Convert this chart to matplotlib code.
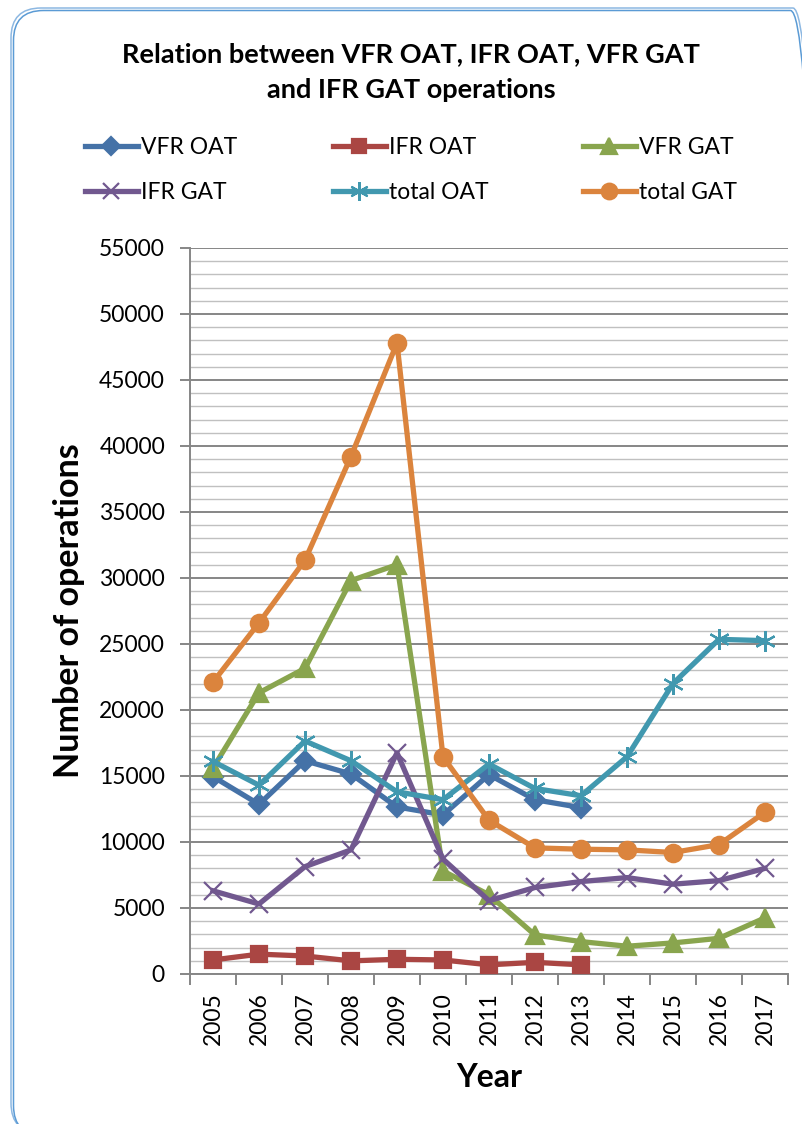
import numpy as np
import matplotlib
matplotlib.use('Agg')
import matplotlib.pyplot as plt
from matplotlib.patches import FancyBboxPatch
from matplotlib.ticker import MultipleLocator, FixedLocator

plt.rcParams['font.family'] = ['Lato', 'DejaVu Sans']

years = ['2005', '2006', '2007', '2008', '2009', '2010', '2011',
         '2012', '2013', '2014', '2015', '2016', '2017']
nan = np.nan
vfr_oat = [14950, 12850, 16150, 15150, 12650, 12050, 15100, 13200, 12600, nan, nan, nan, nan]
ifr_oat = [1060, 1500, 1360, 990, 1110, 1060, 690, 880, 690, nan, nan, nan, nan]
vfr_gat = [15600, 21300, 23150, 29800, 31000, 7800, 6000, 2950, 2450, 2100, 2350, 2700, 4250]
ifr_gat = [6300, 5300, 8130, 9400, 16750, 8700, 5550, 6550, 7000, 7300, 6800, 7070, 8000]
total_oat = [16100, 14300, 17650, 16150, 13800, 13200, 15900, 14050, 13500, 16450, 22000, 25350, 25250]
total_gat = [22100, 26600, 31350, 39200, 47800, 16450, 11650, 9550, 9450, 9400, 9200, 9800, 12250]

series = [
    ('VFR OAT', vfr_oat, '#4572A7', 'D', 10.5),
    ('IFR OAT', ifr_oat, '#AA4643', 's', 11),
    ('VFR GAT', vfr_gat, '#89A54E', '^', 13),
    ('IFR GAT', ifr_gat, '#71588F', 'x', 13),
    ('total OAT', total_oat, '#4198AF', (6, 2, 0), 15),
    ('total GAT', total_gat, '#DB843D', 'o', 12.5),
]

fig = plt.figure(figsize=(8.03, 11.24), dpi=100)
ax = fig.add_axes([0.2366, 0.1335, 0.7447, 0.6459])

x = np.arange(len(years))
handles = {}
for name, vals, col, mk, ms in series:
    ln, = ax.plot(x, vals, color=col, lw=3.8, marker=mk, ms=ms,
                  mec=col, mfc=col, mew=1.6, label=name, zorder=3)
    handles[name] = ln

ax.set_xlim(-0.5, len(years) - 0.5)
ax.set_ylim(0, 55000)
ax.yaxis.set_major_locator(MultipleLocator(5000))
ax.yaxis.set_minor_locator(MultipleLocator(1000))
ax.grid(which='major', axis='y', color='#868686', lw=1.4, zorder=1)
ax.grid(which='minor', axis='y', color='#C0C0C0', lw=1.0, zorder=0)

ax.set_xticks(x)
ax.set_xticklabels(years, rotation=90, fontsize=16.5)
ax.xaxis.set_minor_locator(FixedLocator(np.arange(-0.5, len(years), 1.0)))
ax.tick_params(axis='x', which='major', length=0, pad=13)
ax.tick_params(axis='x', which='minor', length=8, width=1.4, color='#868686')
ax.tick_params(axis='y', which='major', length=7, width=1.4, color='#868686',
               labelsize=16.5, pad=11)
ax.tick_params(axis='y', which='minor', length=0)

for s in ['top', 'right']:
    ax.spines[s].set_visible(False)
for s in ['left', 'bottom']:
    ax.spines[s].set_color('#868686')
    ax.spines[s].set_linewidth(1.4)

ax.set_ylabel('Number of operations', fontsize=24.5, fontweight='bold', labelpad=10)
ax.set_xlabel('Year', fontsize=23, fontweight='bold', labelpad=13)

fig.text(0.512, 0.936, 'Relation between VFR OAT, IFR OAT, VFR GAT\nand IFR GAT operations',
         ha='center', va='center', fontsize=19.5, fontweight='bold', linespacing=1.6)

# legend: three columns placed at the reference column positions
columns = [['VFR OAT', 'IFR GAT'], ['IFR OAT', 'total OAT'], ['VFR GAT', 'total GAT']]
col_x = [85, 333, 583]
for names, cx in zip(columns, col_x):
    leg = fig.legend([handles[n] for n in names], names, loc='upper left',
                     bbox_to_anchor=(cx / 803, 1 - 137 / 1124), frameon=False,
                     fontsize=16.5, handlelength=2.3, handletextpad=0.15,
                     labelspacing=1.05, markerscale=0.9, borderpad=0,
                     borderaxespad=0)

for off, ec in [(0, '#8DB8E2'), (2.5, '#5B9BD5')]:
    border = FancyBboxPatch((11 + off, 1124 - 8 - off - 1125), 812 - 2 * off, 1125,
                            boxstyle='round,pad=0,rounding_size=30',
                            transform=None, fill=False, ec=ec, lw=1.1)
    fig.patches.append(border)

fig.savefig('out.png', dpi=100)
